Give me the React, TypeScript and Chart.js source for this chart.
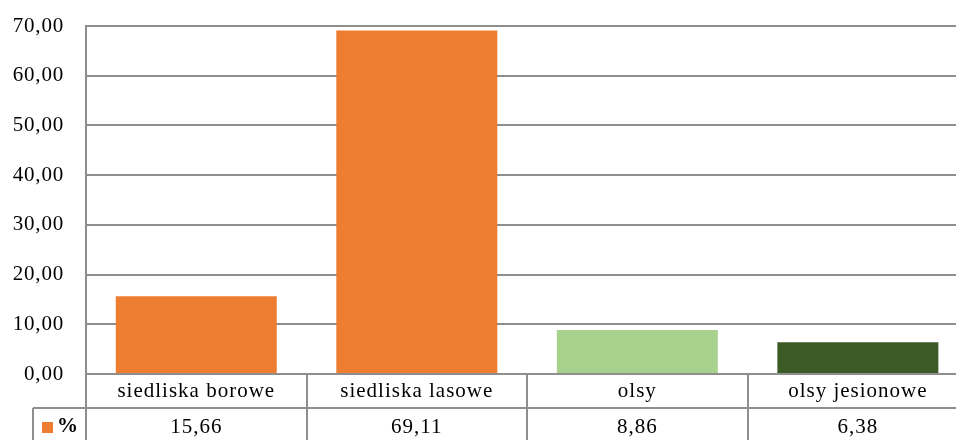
import React, { useEffect, useRef } from 'react';
import { Chart, registerables } from 'chart.js';

Chart.register(...registerables);

const categories = ['siedliska borowe', 'siedliska lasowe', 'olsy', 'olsy jesionowe'];
const seriesName = '%';
const values = [15.66, 69.11, 8.86, 6.38];
const barColors = ['#ED7D31', '#ED7D31', '#A9D18E', '#3B5A25'];
const legendColor = '#ED7D31';
const yTickValues = [0, 10, 20, 30, 40, 50, 60, 70];

const fmt = (v: number) => v.toFixed(2).replace('.', ',');
const FONT = "'Liberation Serif', 'Times New Roman', serif";
const LINE = '#8e8e8e';

const tablePlugin = {
  id: 'dataTable',
  beforeDraw(chart: any) {
    (chart.ctx as any).letterSpacing = '0.8px';
  },
  afterDraw(chart: any) {
    const { ctx, chartArea } = chart;
    const x = chart.scales.x;
    const H = chart.height;
    const W = chart.width;
    const top = chartArea.bottom;
    const row2 = top + 34;
    ctx.save();
    (ctx as any).letterSpacing = '1px';
    ctx.strokeStyle = LINE;
    ctx.lineWidth = 2;
    ctx.beginPath();
    ctx.moveTo(33, row2);
    ctx.lineTo(W, row2);
    for (let i = 0; i <= categories.length; i++) {
      const px = Math.round(x.getPixelForValue(i - 0.5));
      ctx.moveTo(px, top);
      ctx.lineTo(px, H);
    }
    ctx.moveTo(33, row2);
    ctx.lineTo(33, H);
    ctx.stroke();

    ctx.fillStyle = '#000';
    ctx.font = `21px ${FONT}`;
    ctx.textAlign = 'center';
    ctx.textBaseline = 'middle';
    categories.forEach((c, i) => {
      const px = x.getPixelForValue(i);
      ctx.fillText(c, px, top + 17);
      ctx.fillText(fmt(values[i]), px, row2 + 19);
    });
    ctx.fillStyle = legendColor;
    ctx.fillRect(42, row2 + 14, 11, 11);
    ctx.fillStyle = '#000';
    ctx.textAlign = 'left';
    ctx.font = `bold 21px ${FONT}`;
    ctx.fillText(seriesName, 57, row2 + 19);
    ctx.restore();
  },
};

export default function App() {
  const ref = useRef<HTMLCanvasElement>(null);
  useEffect(() => {
    if (!ref.current) return;
    const chart = new Chart(ref.current, {
      type: 'bar',
      data: {
        datasets: [
          {
            label: seriesName,
            data: values.map((v, i) => ({ x: i, y: v })),
            backgroundColor: barColors,
            borderWidth: 0,
            barPercentage: 0.73,
            categoryPercentage: 1,
          },
        ],
      },
      options: {
        responsive: false,
        animation: false,
        layout: { padding: { top: 26, bottom: 66, left: 0, right: 0 } },
        plugins: { legend: { display: false }, tooltip: { enabled: false } },
        scales: {
          x: {
            type: 'linear',
            display: false,
            offset: false,
            bounds: 'ticks',
            min: -0.5,
            max: 3.445,
            grid: { offset: false },
            afterBuildTicks: (s: any) => {
              s.ticks = categories.map((_, i) => ({ value: i }));
            },
          },
          y: {
            min: 0,
            max: 70,
            afterBuildTicks: (s: any) => {
              s.ticks = yTickValues.map((v) => ({ value: v }));
            },
            afterFit: (s: any) => {
              s.width = 86;
              s.paddingTop = 0;
              s.paddingBottom = 0;
            },
            border: { display: true, color: LINE, width: 2 },
            grid: { color: LINE, lineWidth: 2, drawTicks: false },
            ticks: {
              padding: 22,
              color: '#000',
              font: { family: FONT, size: 21 },
              callback: (v: any) => fmt(Number(v)),
            },
          },
        },
      },
      plugins: [tablePlugin],
    } as any);
    return () => chart.destroy();
  }, []);
  return (
    <div style={{ position: 'absolute', left: 0, top: 0, width: 956, height: 440 }}>
      <canvas ref={ref} width={956} height={440} style={{ display: 'block' }} />
    </div>
  );
}
